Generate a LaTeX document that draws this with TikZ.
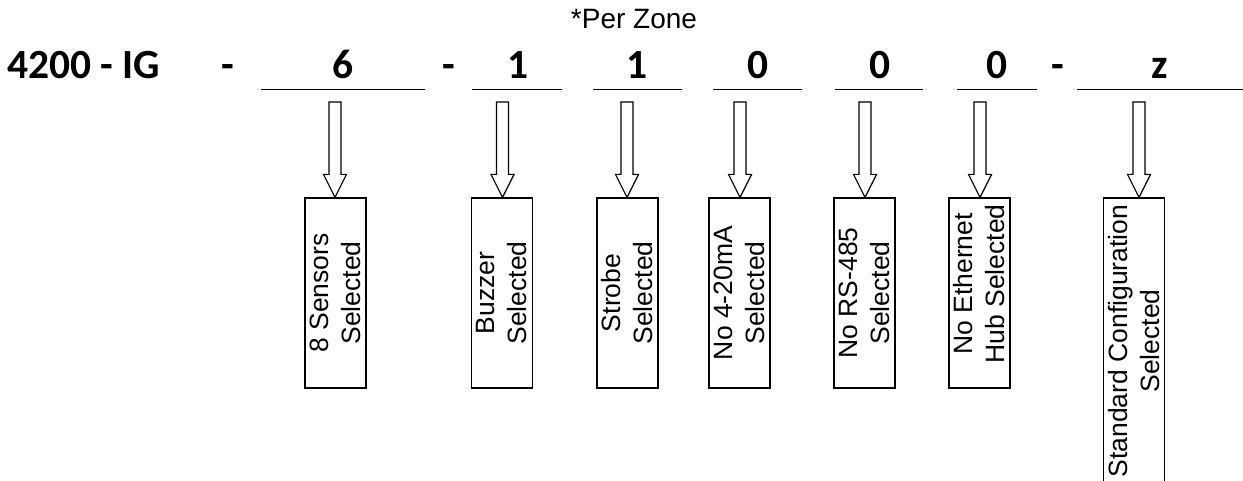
\documentclass[tikz,border=0pt]{standalone}
\usepackage{fontspec}
\setmainfont{Liberation Sans}
\newfontfamily\codefont{Carlito}
\usetikzlibrary{calc}

\tikzset{
  code/.style={font=\codefont\bfseries\fontsize{41.5}{48}\selectfont, anchor=base, inner sep=0pt},
  note/.style={font=\fontsize{28}{32}\selectfont, anchor=base, inner sep=0pt},
  optbox/.style={draw, line width=1.2pt, minimum width=61pt, minimum height=190pt, inner sep=0pt},
  optlabel/.style={rotate=90, align=center, font=\fontsize{26.5}{32}\selectfont, inner sep=0pt},
  rule/.style={line width=1pt},
  hollowarrow/.style={draw, line width=1.2pt, line join=miter, fill=white},
}

% hollow block arrow from the top point #1 down to the tip #2
\newcommand\blockarrow[2]{%
  \draw[hollowarrow] let \p1=(#1), \p2=(#2) in
    (\x1-6pt,\y1) -- (\x1+6pt,\y1) -- (\x1+6pt,\y2+23pt) -- (\x1+11.5pt,\y2+23pt)
    -- (\x1,\y2) -- (\x1-11.5pt,\y2+23pt) -- (\x1-6pt,\y2+23pt) -- cycle;}

\begin{document}
\begin{tikzpicture}[x=1pt, y=-1pt]
\useasboundingbox (0,0) rectangle (1243,481);

% part number
\node[code, anchor=base west] (base) at (7,79) {4200 - IG};
\node[code] (d0) at (228,79) {-};
\node[code] (c1) at (343,79) {6};
\node[code] (d1) at (449,79) {-};
\node[code] (c2) at (518,79) {1};
\node[code] (c3) at (637,79) {1};
\node[code] (c4) at (758,79) {0};
\node[code] (c5) at (880,79) {0};
\node[code] (c6) at (997,79) {0};
\node[code] (d2) at (1057.5,79) {-};
\node[code] (c7) at (1160,79) {z};

\node[note] (zone) at (634,29) {*Per Zone};

% field underlines
\draw[rule] (261,90) -- (425,90);
\draw[rule] (472,90) -- (562,90);
\draw[rule] (593,90) -- (682,90);
\draw[rule] (713,90) -- (802,90);
\draw[rule] (835,90) -- (923,90);
\draw[rule] (957,90) -- (1037,90);
\draw[rule] (1077,90) -- (1243,90);

% arrow start points
\coordinate (u1) at (335,102);
\coordinate (u2) at (502.5,102);
\coordinate (u3) at (627,102);
\coordinate (u4) at (740,102);
\coordinate (u5) at (865,102);
\coordinate (u6) at (980,102);
\coordinate (u7) at (1139,102);

% option boxes
\node[optbox] (b1) at (335.5,293) {};
\node[optbox] (b2) at (502,293) {};
\node[optbox] (b3) at (627.5,293) {};
\node[optbox] (b4) at (739.5,293) {};
\node[optbox] (b5) at (864.5,293) {};
\node[optbox] (b6) at (979.5,293) {};
\node[optbox, minimum height=286pt] (b7) at (1134,341) {};

\node[optlabel] (t1) at (b1.center) {8 Sensors\\Selected};
\node[optlabel] (t2) at (b2.center) {Buzzer\\Selected};
\node[optlabel] (t3) at (b3.center) {Strobe\\Selected};
\node[optlabel] (t4) at (b4.center) {No 4-20mA\\Selected};
\node[optlabel] (t5) at (b5.center) {No RS-485\\Selected};
\node[optlabel] (t6) at ($(b6.center)+(0,-9)$) {No Ethernet\\Hub Selected};
\node[optlabel] (t7) at (b7.center) {Standard Configuration\\Selected};

% arrows
\blockarrow{u1}{u1 |- b1.north}
\blockarrow{u2}{u2 |- b2.north}
\blockarrow{u3}{u3 |- b3.north}
\blockarrow{u4}{u4 |- b4.north}
\blockarrow{u5}{u5 |- b5.north}
\blockarrow{u6}{u6 |- b6.north}
\blockarrow{u7}{u7 |- b7.north}
\end{tikzpicture}
\end{document}
